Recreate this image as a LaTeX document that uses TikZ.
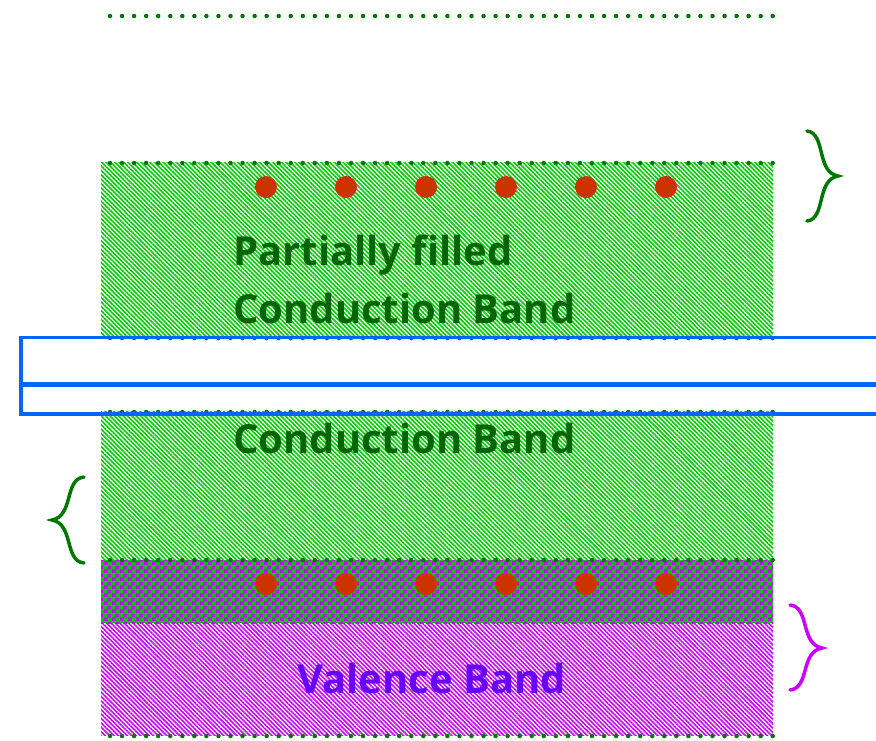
\documentclass[tikz,border=0pt]{standalone}
\usepackage{fontspec}
\setmainfont{Open Sans}[Ligatures=NoCommon]
\usetikzlibrary{patterns,patterns.meta}
\definecolor{hgreen}{RGB}{0,204,0}
\definecolor{dgreen}{RGB}{0,120,0}
\definecolor{tgreen}{RGB}{0,100,0}
\definecolor{hmag}{RGB}{204,0,255}
\definecolor{tpurp}{RGB}{102,0,255}
\definecolor{bblue}{RGB}{0,102,255}
\definecolor{edot}{RGB}{204,51,0}
\pgfdeclarepatternformonly{bigchecker}{\pgfpointorigin}{\pgfpoint{8pt}{8pt}}{\pgfpoint{8pt}{8pt}}{%
  \pgfpathrectangle{\pgfpointorigin}{\pgfpoint{4pt}{4pt}}%
  \pgfpathrectangle{\pgfpoint{4pt}{4pt}}{\pgfpoint{4pt}{4pt}}%
  \pgfusepath{fill}}
\tikzset{
  ghatch/.style={pattern={Lines[angle=-45,distance=3.1pt,line width=1.6pt]},pattern color=hgreen},
  mhatch/.style={pattern={Lines[angle=-45,distance=3.1pt,line width=1.6pt]},pattern color=hmag},
  dotline/.style={draw=dgreen,line width=4.5pt,line cap=round,dash pattern=on 0pt off 12.05pt},
  electron/.style={circle,fill=edot,minimum size=22pt,inner sep=0pt},
  bandtext/.style={font=\fontsize{40}{58}\selectfont\bfseries,inner sep=0pt,anchor=base west},
  bracestyle/.style={line width=3.5pt,line cap=round},
}
\begin{document}
\begin{tikzpicture}[x=1pt,y=-1pt]
\useasboundingbox (0,0) rectangle (876,740);
% top dotted level
\coordinate (t1) at (110,16);
\coordinate (t2) at (773,16);
\draw[dotline] (t1) -- (t2);
% upper band
\path[ghatch] (101,162) rectangle (773,338);
% lower conduction band
\path[ghatch] (101,411) rectangle (773,560);
% overlap
\fill[hgreen] (101,560) rectangle (773,623);
\path[pattern=bigchecker,pattern color=hmag] (101,560) rectangle (773,623);
% valence band
\path[mhatch] (101,623) rectangle (773,735);
% dotted edges
\foreach \y in {163,338,412,560,736}{
  \coordinate (a\y) at (110,\y);
  \coordinate (b\y) at (773,\y);
  \draw[dotline] (a\y) -- (b\y);
}
% electrons
\foreach \i/\x in {1/266,2/346,3/426,4/506,5/586,6/666}{
  \node[electron] (eu\i) at (\x,187) {};
  \node[electron] (el\i) at (\x,584) {};
}
% texts
\node[bandtext,text=tgreen] (pf) at (233,265) {Partially filled};
\node[bandtext,text=tgreen] (cb1) at (233,323) {Conduction Band};
\node[bandtext,text=tgreen] (cb2) at (233,453) {Conduction Band};
\node[bandtext,text=tpurp] (vb) at (297,693) {Valence Band};
% blue box
\draw[bblue,line width=3.5pt] (890,337.5) -- (21,337.5) -- (21,414) -- (890,414);
\draw[bblue,line width=5pt] (21,384) -- (890,384);
% braces
\draw[bracestyle,dgreen] (807,131) .. controls (826,133) and (816,172) .. (838,176)
  .. controls (816,180) and (826,219) .. (807,221);
\draw[bracestyle,dgreen] (84,477) .. controls (64,479) and (74,516) .. (52,520)
  .. controls (74,524) and (64,561) .. (84,563);
\draw[bracestyle,hmag] (790,605) .. controls (810,607) and (800,644) .. (822,648)
  .. controls (800,652) and (810,688) .. (790,690);
\end{tikzpicture}
\end{document}
